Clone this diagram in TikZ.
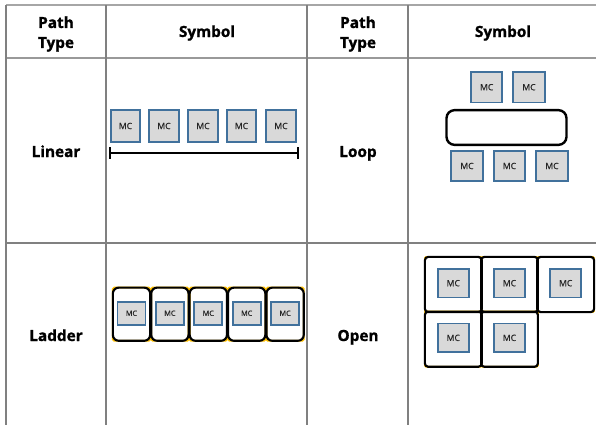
\documentclass[tikz,border=0pt]{standalone}
\usepackage{fontspec}
\setmainfont{Open Sans}[BoldFeatures={FakeBold=1.2}]
\newfontfamily\mcfam{Open Sans}[FakeBold=0.6]
\definecolor{mcblue}{HTML}{41719C}
\definecolor{mcgray}{HTML}{D9D9D9}
\definecolor{mctext}{HTML}{262626}
\definecolor{gridgray}{HTML}{808080}
\definecolor{gold}{HTML}{FFC000}
\tikzset{
  mc/.style={draw=mcblue, fill=mcgray, line width=1.4pt, inner sep=0pt,
    font=\mcfam\fontsize{6.5}{7}\selectfont, text=mctext},
  lbl/.style={font=\bfseries\fontsize{11.5}{15}\selectfont, align=center, inner sep=0pt},
  grid/.style={draw=gridgray, line width=1.1pt},
  cellbox/.style={inner sep=0pt, draw=none},
  goldline/.style={draw=gold, line width=1.3pt, rounded corners=1pt},
  blackline/.style={draw=black, line width=1.6pt, rounded corners=#1},
}
\begin{document}
\begin{tikzpicture}[x=0.75pt, y=-0.75pt]
\useasboundingbox (0,0) rectangle (596,425);
% table grid
\draw[grid, draw=gray!70] (6,5) -- (596,5);
\draw[grid, draw=gray!80] (6,58) -- (596,58);
\draw[grid] (6,243) -- (596,243);
\foreach \x in {6,106,307,408} \draw[grid] (\x,5) -- (\x,425);
% headers
\node[lbl] (h1) at (56,34) {Path\\Type};
\node[lbl, anchor=base] (h2) at (207,37) {Symbol};
\node[lbl] (h3) at (358,34) {Path\\Type};
\node[lbl, anchor=base] (h4) at (503,37) {Symbol};
\node[lbl, anchor=base] (r1) at (56,157) {Linear};
\node[lbl, anchor=base] (r2) at (358,157) {Loop};
\node[lbl, anchor=base] (r3) at (56,341) {Ladder};
\node[lbl, anchor=base] (r4) at (358,341) {Open};
% Linear
\foreach \i/\x in {1/125.5,2/164,3/203,4/241.5,5/281}
  \node[mc, minimum width=22pt, minimum height=24.5pt] (lin\i) at (\x,126) {MC};
\coordinate (la) at (109.5,153.3);
\coordinate (lb) at (297.5,153.3);
\draw[line width=1.5pt] (la) -- (lb);
\draw[line width=1.5pt] ([yshift=4.5pt]la) -- ([yshift=-4.5pt]la);
\draw[line width=1.5pt] ([yshift=4.5pt]lb) -- ([yshift=-4.5pt]lb);
% Loop
\node[mc, minimum width=23.5pt, minimum height=23pt] (lp1) at (486.7,87.2) {MC};
\node[mc, minimum width=23.5pt, minimum height=23pt] (lp2) at (529,87.2) {MC};
\node[draw=black, line width=1.8pt, rounded corners=6pt, minimum width=90pt, minimum height=26pt, inner sep=0pt] (ring) at (506.5,127.5) {};
\foreach \i/\x in {3/467,4/509.5,5/552}
  \node[mc, minimum width=23.5pt, minimum height=23pt] (lp\i) at (\x,166) {MC};
% Ladder
\foreach \i/\x in {1/131.5,2/169.9,3/208.3,4/246.7,5/285.1}
  \node[cellbox, minimum width=27.6pt, minimum height=39.5pt] (ld\i) at (\x,314.2) {};
\foreach \i in {1,...,5}
  \draw[goldline] (ld\i.south west) rectangle (ld\i.north east);
\foreach \i in {1,...,5}
  \draw[blackline=4.5pt] (ld\i.south west) rectangle (ld\i.north east);
\foreach \i in {1,...,5}
  \node[mc, minimum width=21pt, minimum height=17pt, font=\mcfam\fontsize{5.5}{6}\selectfont] (ldm\i) at ([yshift=0.7pt]ld\i.center) {MC};
% Open
\node[cellbox, minimum width=42.2pt, minimum height=41pt] (op1) at (453.3,284.5) {};
\node[cellbox, minimum width=42.2pt, minimum height=41pt] (op2) at (509.5,284.5) {};
\node[cellbox, minimum width=42.2pt, minimum height=41pt] (op3) at (565.7,284.5) {};
\node[cellbox, minimum width=42.2pt, minimum height=41pt] (op4) at (453.3,339.2) {};
\node[cellbox, minimum width=42.2pt, minimum height=41pt] (op5) at (509.5,339.2) {};
\foreach \i in {1,...,5}
  \draw[goldline] (op\i.south west) rectangle (op\i.north east);
\foreach \i in {1,...,5}
  \draw[blackline=2.5pt] (op\i.south west) rectangle (op\i.north east);
\foreach \i in {1,...,5}
  \node[mc, minimum width=23.5pt, minimum height=21.5pt] (opm\i) at ([yshift=1pt]op\i.center) {MC};
\end{tikzpicture}
\end{document}
